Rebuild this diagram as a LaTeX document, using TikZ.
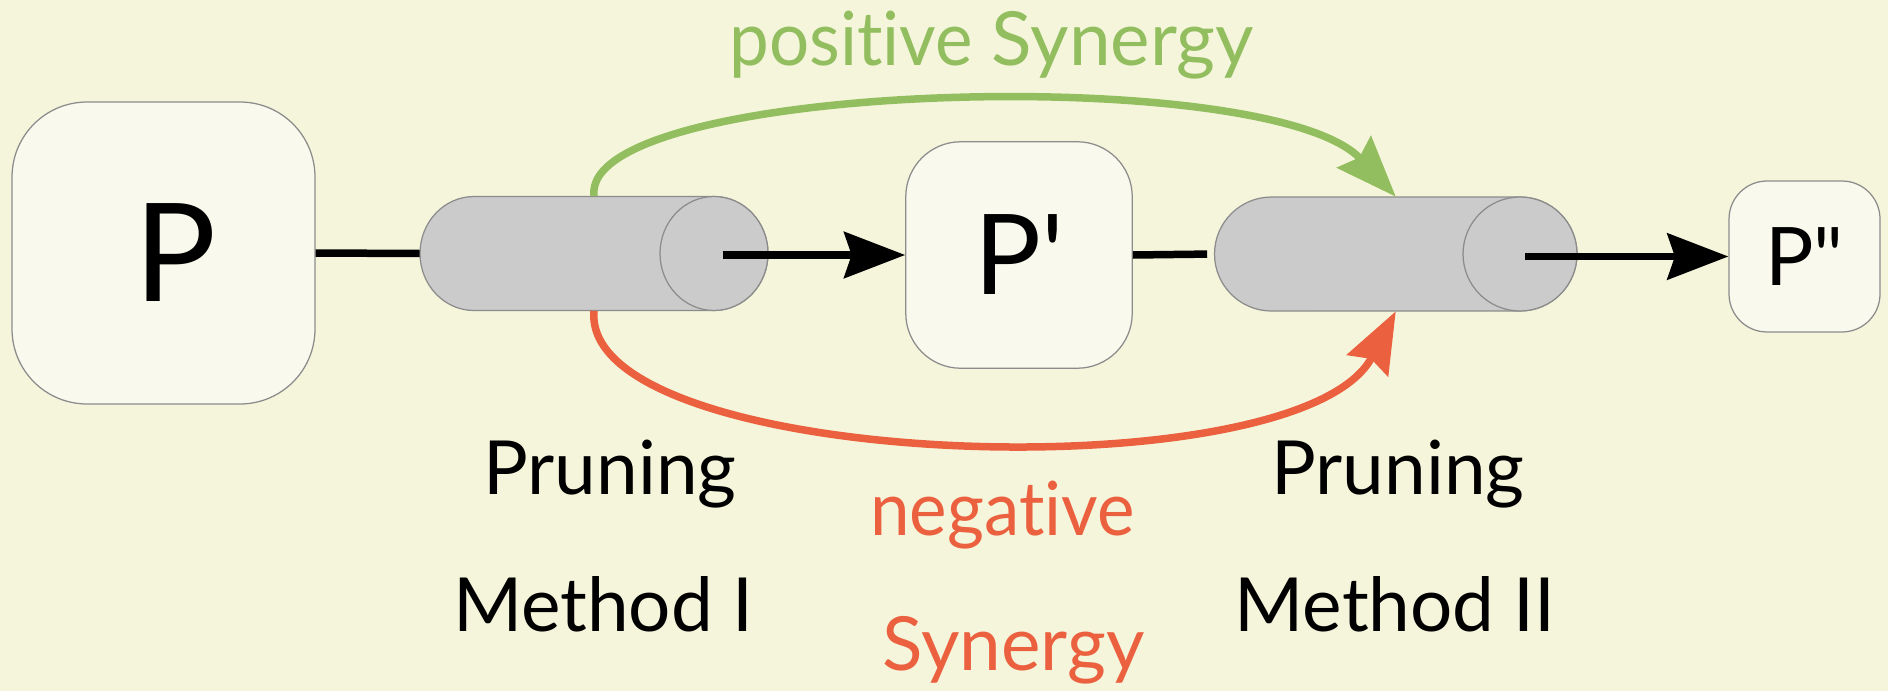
\documentclass[tikz,border=0pt]{standalone}
\usepackage{fontspec}
\setmainfont{Lato}[Ligatures={TeX,NoCommon}]
\newfontfamily\narrowfont{Lato}[Ligatures={TeX,NoCommon},FakeStretch=0.95]
\usetikzlibrary{arrows.meta,calc}
\definecolor{bg}{RGB}{245,245,220}
\definecolor{boxfill}{RGB}{249,249,238}
\definecolor{boxline}{RGB}{140,140,140}
\definecolor{cylfill}{RGB}{203,203,203}
\definecolor{posgreen}{RGB}{147,190,95}
\definecolor{negorange}{RGB}{235,97,63}
\begin{document}
\begin{tikzpicture}[x=0.02cm,y=0.02cm,
  pbox/.style={draw=boxline, fill=boxfill, line width=0.025cm, inner sep=0pt},
  cylslot/.style={inner sep=0pt, minimum height=2.28cm},
  cylstyle/.style={draw=boxline, fill=cylfill, line width=0.025cm},
  conn/.style={line width=0.15cm, black},
  tip/.style={-{Stealth[length=1.22cm,width=0.92cm,inset=0.15cm]}},
  arr/.style={conn, tip},
  syn/.style={line width=0.15cm, tip},
  lbl/.style={anchor=base, inner sep=0pt, font=\fontsize{42.5}{44}\selectfont}]
\clip (0,0) rectangle (1888,691);
\fill[bg] (0,0) rectangle (1888,691);

% boxes
\node[pbox, minimum width=6.06cm, minimum height=6.04cm, rounded corners=1.5cm,
      font=\fontsize{77.8}{80}\selectfont] (P) at (163.5,438) {\hspace*{0.5cm}P};
\node[pbox, minimum width=4.53cm, minimum height=4.53cm, rounded corners=1.1cm,
      font=\fontsize{63.5}{66}\selectfont] (P1) at (1019,436) {P\textquotesingle};
\node[pbox, minimum width=3.02cm, minimum height=3.02cm, rounded corners=0.76cm,
      font=\fontsize{46}{48}\selectfont] (P2) at (1804.5,434.5) {P\textquotedbl};

% cylinders
\node[cylslot, minimum width=6.96cm] (C1) at (594,437.5) {};
\draw[cylstyle] (474,494.5) -- (714,494.5)
  arc[start angle=90,end angle=-90,x radius=1.08cm,y radius=1.14cm]
  -- (474,380.5)
  arc[start angle=-90,end angle=-270,x radius=1.08cm,y radius=1.14cm] -- cycle;
\draw[cylstyle] (714,437.5) ellipse[x radius=1.08cm, y radius=1.14cm];

\node[cylslot, minimum width=7.25cm] (C2) at (1395.75,437) {};
\draw[cylstyle] (1271.5,494) -- (1520,494)
  arc[start angle=90,end angle=-90,x radius=1.14cm,y radius=1.14cm]
  -- (1271.5,380)
  arc[start angle=-90,end angle=-270,x radius=1.14cm,y radius=1.14cm] -- cycle;
\draw[cylstyle] (1520,437) ellipse[x radius=1.14cm, y radius=1.14cm];

\coordinate (C1out) at (722.6,436);
\coordinate (C2out) at (1525,434.5);

% connectors
\draw[conn] (P.east) -- (C1.west);
\draw[arr] (C1out) -- (P1.west);
\draw[conn, shorten >=0.14cm] (P1.east) -- (C2.west);
\draw[arr] (C2out) -- (P2.west);

\draw[syn, posgreen] (C1.north) .. controls +(-14,115) and +(-126,135) .. (C2.north);
\draw[syn, negorange] (C1.south) .. controls +(-14,-159) and +(-96,-184) .. (C2.south);

% labels
\node[lbl, text=posgreen] (possyn) at (991.5,625) {{\narrowfont positive} Synergy};
\node[lbl] (pr1) at (610,197) {Pruning};
\node[lbl] (me1) at (603,59.3) {Method I};
\node[lbl] (pr2) at (1398,197) {Pruning};
\node[lbl] (me2) at (1395,59.3) {Method II};
\node[lbl, text=negorange] (neg) at (1002.5,155.3) {\narrowfont negative};
\node[lbl, text=negorange] (syn) at (1013.5,20.3) {Synergy};
\end{tikzpicture}
\end{document}
